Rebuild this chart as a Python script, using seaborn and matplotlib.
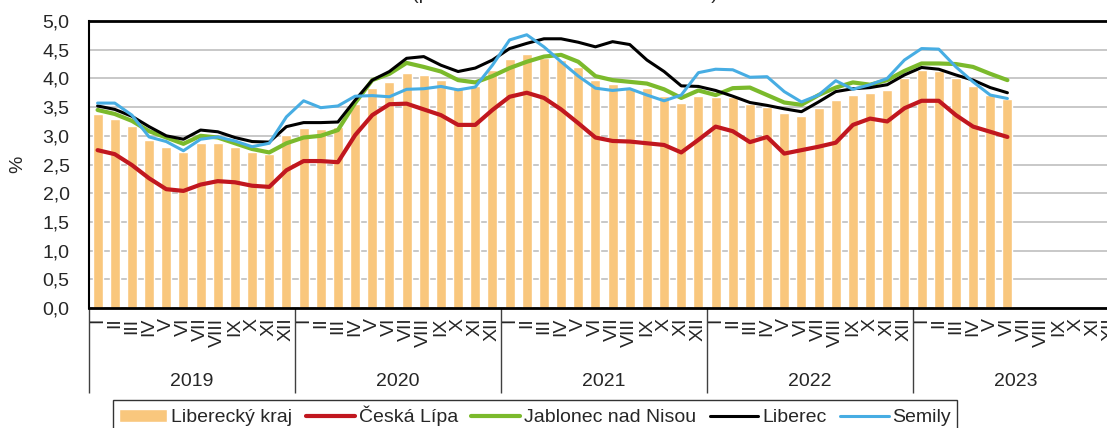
import numpy as np
import pandas as pd
import matplotlib
matplotlib.use('Agg')
import matplotlib.pyplot as plt
import seaborn as sns

# x axis categories
years = ['2019', '2020', '2021', '2022', '2023']
months = ['I', 'II', 'III', 'IV', 'V', 'VI', 'VII', 'VIII', 'IX', 'X', 'XI', 'XII']

# podíl nezaměstnaných (%), leden 2019 - červen 2023
kraj = [3.38, 3.30, 3.17, 2.93, 2.81, 2.72, 2.88, 2.88, 2.80, 2.72, 2.69, 3.01,
        3.13, 3.11, 3.15, 3.55, 3.83, 3.94, 4.10, 4.06, 3.97, 3.85, 3.86, 4.15,
        4.33, 4.42, 4.35, 4.32, 4.19, 3.97, 3.91, 3.84, 3.83, 3.69, 3.57, 3.70,
        3.68, 3.68, 3.56, 3.50, 3.39, 3.34, 3.49, 3.62, 3.71, 3.75, 3.80, 4.00,
        4.15, 4.13, 4.00, 3.86, 3.71, 3.64]
ceska_lipa = [2.75, 2.68, 2.49, 2.26, 2.07, 2.04, 2.15, 2.21, 2.19, 2.13, 2.11, 2.40,
              2.56, 2.56, 2.54, 3.01, 3.36, 3.55, 3.56, 3.46, 3.36, 3.19, 3.19, 3.45,
              3.68, 3.75, 3.66, 3.46, 3.22, 2.97, 2.91, 2.90, 2.87, 2.84, 2.71, 2.93,
              3.16, 3.08, 2.89, 2.98, 2.69, 2.75, 2.81, 2.88, 3.19, 3.30, 3.25, 3.48,
              3.61, 3.61, 3.36, 3.16, 3.07, 2.98]
jablonec = [3.45, 3.38, 3.26, 3.08, 2.97, 2.86, 3.00, 2.97, 2.87, 2.77, 2.71, 2.87,
            2.97, 3.00, 3.10, 3.57, 3.97, 4.08, 4.27, 4.20, 4.12, 3.97, 3.93, 4.04,
            4.18, 4.29, 4.38, 4.41, 4.29, 4.04, 3.97, 3.94, 3.91, 3.81, 3.66, 3.79,
            3.71, 3.83, 3.84, 3.71, 3.58, 3.54, 3.71, 3.84, 3.93, 3.89, 3.97, 4.13,
            4.26, 4.26, 4.25, 4.20, 4.08, 3.97]
liberec = [3.52, 3.46, 3.34, 3.16, 3.00, 2.94, 3.10, 3.07, 2.97, 2.90, 2.89, 3.16,
           3.23, 3.23, 3.24, 3.62, 3.97, 4.12, 4.35, 4.38, 4.23, 4.12, 4.18, 4.32,
           4.52, 4.61, 4.69, 4.69, 4.63, 4.55, 4.64, 4.59, 4.32, 4.12, 3.87, 3.86,
           3.79, 3.69, 3.58, 3.53, 3.47, 3.42, 3.59, 3.77, 3.82, 3.84, 3.89, 4.06,
           4.19, 4.16, 4.06, 3.97, 3.84, 3.75]
semily = [3.57, 3.57, 3.36, 2.98, 2.90, 2.74, 2.94, 2.98, 2.91, 2.81, 2.87, 3.33,
          3.61, 3.49, 3.52, 3.69, 3.70, 3.68, 3.81, 3.82, 3.86, 3.80, 3.85, 4.23,
          4.67, 4.76, 4.55, 4.29, 4.04, 3.83, 3.79, 3.82, 3.71, 3.61, 3.71, 4.10,
          4.16, 4.15, 4.02, 4.03, 3.77, 3.59, 3.71, 3.96, 3.81, 3.89, 4.00, 4.32,
          4.52, 4.51, 4.20, 3.94, 3.71, 3.65]

sns.set_theme(style='white')
plt.rcParams['font.family'] = ['Liberation Sans', 'DejaVu Sans']
FS = 14

n_all = len(years) * len(months)
pos = np.arange(len(kraj))
df = pd.DataFrame({'pos': pos, 'kraj': kraj})

fig = plt.figure(figsize=(11.07, 4.28), dpi=100)
# plot area runs past the right edge, as in the cropped original
ax = fig.add_axes([89 / 1107, 120 / 428, 1030 / 1107, 287 / 428])

sns.barplot(data=df, x='pos', y='kraj', native_scale=True, width=0.58,
            color='#F9C77D', saturation=1, errorbar=None,
            label='Liberecký kraj', ax=ax)

series = [('Česká Lípa', ceska_lipa, '#C1171F', 3.0),
          ('Jablonec nad Nisou', jablonec, '#7BBA2C', 3.0),
          ('Liberec', liberec, '#000000', 2.2),
          ('Semily', semily, '#47ADE3', 2.2)]
for name, vals, col, lw in series:
    sns.lineplot(x=pos, y=vals, color=col, linewidth=lw, label=name, ax=ax,
                 solid_capstyle='round', solid_joinstyle='round')

# y axis
ax.set_ylim(0, 5)
yt = np.arange(0, 5.01, 0.5)
ax.set_yticks(yt)
ax.set_yticklabels([f'{v:.1f}'.replace('.', ',') for v in yt], fontsize=FS)
ax.tick_params(axis='y', length=5, width=1, color='#808080', pad=9)
ax.yaxis.grid(True, color='#BFBFBF', linewidth=1.2)
ax.set_axisbelow(True)
ax.set_ylabel('%', fontsize=FS, labelpad=12)

# x axis: month separators and roman numerals
ax.set_xlim(-0.5, n_all - 0.5)
ax.set_xlabel('')
ax.set_xticks(np.arange(-0.5, n_all, 1))
ax.set_xticklabels([])
ax.set_xticks(np.arange(n_all), minor=True)
ax.set_xticklabels(months * len(years), minor=True, rotation=90, fontsize=FS)
ax.tick_params(axis='x', which='major', length=34, width=1, color='black', direction='out')
ax.tick_params(axis='x', which='minor', length=0, pad=7)

# second level: years
sec = ax.secondary_xaxis('bottom')
sec.set_xticks(np.arange(-0.5, n_all, 12))
sec.set_xticklabels([])
sec.set_xticks(np.arange(5.5, n_all, 12), minor=True)
sec.set_xticklabels(years, minor=True, fontsize=FS)
sec.tick_params(which='major', length=61, width=1, color='#404040', direction='out')
sec.tick_params(which='minor', length=0, pad=47)
sec.spines['bottom'].set_visible(False)

for side in ['top', 'bottom']:
    ax.spines[side].set_color('black')
    ax.spines[side].set_linewidth(2)
ax.spines['left'].set_color('black')
ax.spines['left'].set_linewidth(1.5)
ax.spines['right'].set_visible(False)

# bars first in the legend, then the districts
handles, labels = ax.get_legend_handles_labels()
order = [labels.index('Liberecký kraj')] + [i for i, l in enumerate(labels) if l != 'Liberecký kraj']
leg = ax.legend([handles[i] for i in order], [labels[i] for i in order], loc='upper left',
                bbox_to_anchor=(113 / 1107, 1 - 400 / 428), bbox_transform=fig.transFigure,
                ncol=5, frameon=True, fancybox=False, edgecolor='black', fontsize=FS,
                handlelength=2.5, handletextpad=0.2, columnspacing=0.7,
                borderaxespad=0, borderpad=0.3)
leg.get_frame().set_linewidth(1.0)

# title, cut off at the top edge like in the source (only descenders show)
fig.text(0.5104, 1 + 1 / 428, '(podíl uchazečů o zaměstnání v %)',
         ha='center', va='baseline', fontsize=FS)

fig.savefig('out.png', dpi=100)
